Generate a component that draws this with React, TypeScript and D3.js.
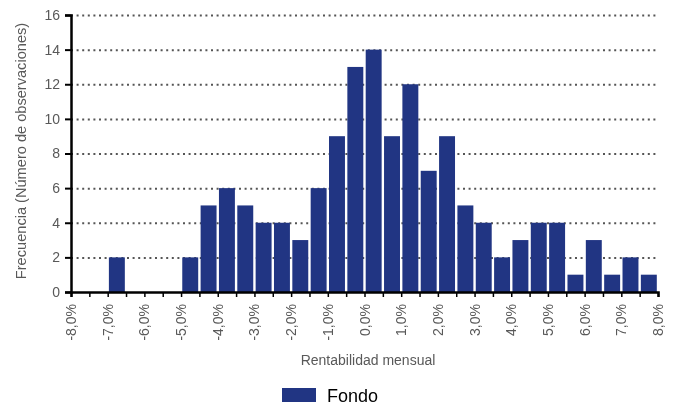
import { useEffect, useRef } from "react";
import * as d3 from "d3";

// Histogram bins: lower edge of each 0.5% bin (in %)
const binStarts = d3.range(-8, 8, 0.5);
const frequencies = [
  0, 0, 2, 0, 0, 0, 2, 5, 6, 5, 4, 4, 3, 6, 9, 13,
  14, 9, 12, 7, 9, 5, 4, 2, 3, 4, 4, 1, 3, 1, 2, 1,
];
const xTicks = d3.range(-8, 8.01, 1);
const yTicks = [0, 2, 4, 6, 8, 10, 12, 14, 16];
const seriesName = "Fondo";

const W = 677;
const H = 407;

export default function App() {
  const svgRef = useRef<SVGSVGElement | null>(null);

  useEffect(() => {
    if (!svgRef.current) return;
    const margin = { top: 15, right: 19, bottom: 115, left: 71 };
    const width = W - margin.left - margin.right;
    const height = H - margin.top - margin.bottom;
    const font = "'Liberation Sans', Arial, sans-serif";
    const textColor = "#595959";

    const svg = d3.select(svgRef.current);
    svg.selectAll("*").remove();

    const g = svg
      .append("g")
      .attr("transform", `translate(${margin.left},${margin.top})`);

    const x = d3.scaleLinear().domain([-8, 8]).range([0, width]);
    const y = d3.scaleLinear().domain([0, 16]).range([height, 0]);

    // dotted gridlines
    g.selectAll("line.grid")
      .data(yTicks.filter((d) => d > 0))
      .join("line")
      .attr("class", "grid")
      .attr("x1", 0)
      .attr("x2", width)
      .attr("y1", (d) => y(d) + 0.5)
      .attr("y2", (d) => y(d) + 0.5)
      .attr("stroke", "#555")
      .attr("stroke-width", 2)
      .attr("stroke-dasharray", "2,3.6");

    // bars
    const data = binStarts.map((s, i) => ({ s, v: frequencies[i] }));
    g.selectAll("rect.bar")
      .data(data.filter((d) => d.v > 0))
      .join("rect")
      .attr("class", "bar")
      .attr("x", (d) => x(d.s) + 1.2)
      .attr("width", x(0.5) - x(0) - 2.4)
      .attr("y", (d) => y(d.v))
      .attr("height", (d) => height - y(d.v))
      .attr("fill", "#213583");

    // y axis
    const yAxis = g
      .append("g")
      .call(d3.axisLeft(y).tickValues(yTicks).tickSize(6).tickPadding(5));
    yAxis.select(".domain").attr("stroke", "#000").attr("stroke-width", 2.5);
    yAxis.selectAll(".tick line").attr("stroke", "#000").attr("stroke-width", 2);
    yAxis
      .selectAll("text")
      .style("font-family", font)
      .style("font-size", "14px")
      .attr("fill", textColor);

    // x axis
    const xAxis = g
      .append("g")
      .attr("transform", `translate(0,${height})`)
      .call(
        d3
          .axisBottom(x)
          .tickValues(d3.range(-8, 8.01, 0.5))
          .tickSize(5)
          .tickFormat(() => "")
      );
    xAxis.select(".domain").attr("stroke", "#000").attr("stroke-width", 2.5);
    xAxis.selectAll(".tick line").attr("stroke", "#000").attr("stroke-width", 1.5);

    const fmt = (d: number) => d3.format(".1f")(d).replace(".", ",").replace("−", "-") + "%";
    g.append("g")
      .selectAll("text")
      .data(xTicks)
      .join("text")
      .attr("transform", (d) => `translate(${x(d) + 5},${height + 12}) rotate(-90)`)
      .attr("text-anchor", "end")
      .style("font-family", font)
      .style("font-size", "14px")
      .attr("fill", textColor)
      .text(fmt);

    // axis titles
    svg
      .append("text")
      .attr("x", 368)
      .attr("y", 365)
      .attr("text-anchor", "middle")
      .style("font-family", font)
      .style("font-size", "14px")
      .attr("fill", textColor)
      .text("Rentabilidad mensual");

    svg
      .append("text")
      .attr("transform", `translate(26,151) rotate(-90)`)
      .attr("text-anchor", "middle")
      .style("font-family", font)
      .style("font-size", "14.6px")
      .attr("fill", textColor)
      .text("Frecuencia (Número de observaciones)");

    // legend
    const lg = svg.append("g").attr("transform", "translate(282,388)");
    lg.append("rect").attr("width", 34).attr("height", 14).attr("fill", "#213583");
    lg.append("text")
      .attr("x", 45)
      .attr("y", 13.5)
      .style("font-family", font)
      .style("font-size", "18px")
      .attr("fill", "#000")
      .text(seriesName);
  }, []);

  return (
    <svg
      ref={svgRef}
      width={W}
      height={H}
      style={{ position: "fixed", left: 0, top: 0, display: "block" }}
    />
  );
}
